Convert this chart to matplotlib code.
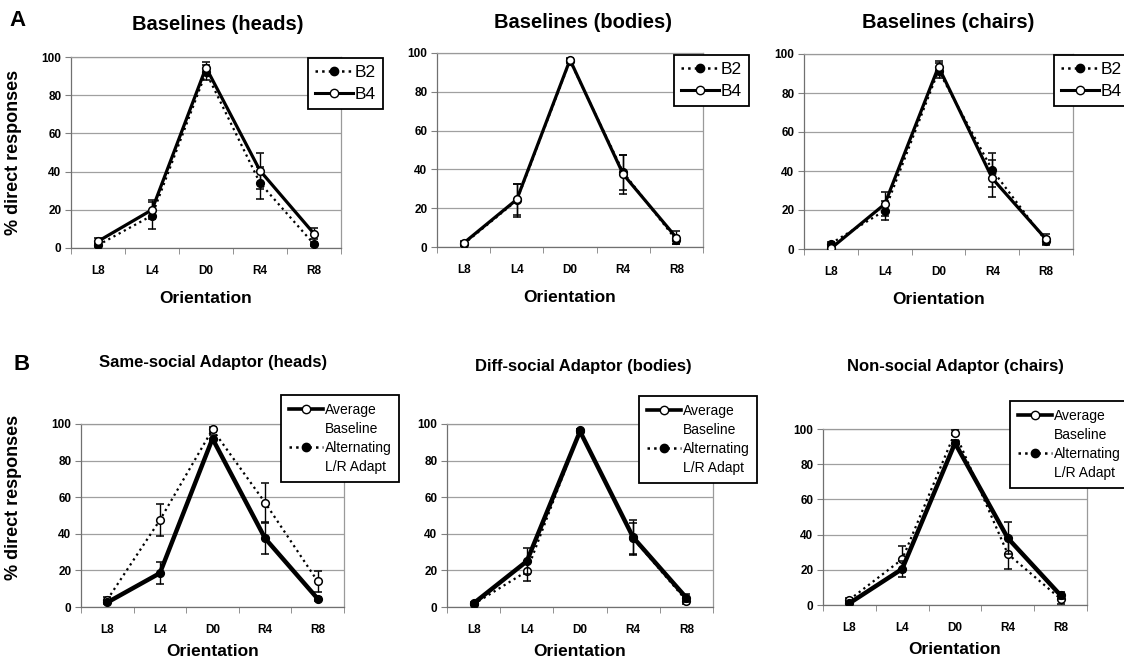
import matplotlib
matplotlib.use('Agg')
import matplotlib.pyplot as plt
from matplotlib.lines import Line2D
import numpy as np

plt.rcParams['font.family'] = ['Liberation Sans', 'DejaVu Sans']

orient = ['L8', 'L4', 'D0', 'R4', 'R8']

# top row: baselines B2 / B4
heads_b2 = [1.5, 17, 92, 34, 2]
heads_b2_err = [1, 7, 4, 8.5, 1]
heads_b4 = [3.5, 20, 94.5, 40.5, 7.5]
heads_b4_err = [1.5, 5, 3, 9.5, 3]

bodies_b2 = [1.5, 24, 96, 38.5, 3.5]
bodies_b2_err = [1, 8.5, 1, 9, 2]
bodies_b4 = [2, 24.5, 96.5, 37.5, 4.8]
bodies_b4_err = [1, 8, 1, 10, 3.5]

chairs_b2 = [2.8, 19.7, 91.5, 40.5, 4]
chairs_b2_err = [1, 5, 4, 8.5, 2]
chairs_b4 = [0.3, 23, 93.5, 36.2, 5]
chairs_b4_err = [0.5, 6, 3, 9.5, 2.5]

# bottom row: average baseline vs alternating L/R adapt
same_avg = [2.5, 18.5, 92, 37.5, 4.5]
same_avg_err = [1, 6, 2, 8.5, 1]
same_alt = [4, 47.5, 97, 57, 14]
same_alt_err = [1.5, 8.6, 1.5, 10.5, 5.6]

diff_avg = [2, 25, 96, 38, 5]
diff_avg_err = [0.5, 7, 1, 9.5, 2]
diff_alt = [1.5, 19.5, 96.5, 37.5, 3.5]
diff_alt_err = [0.5, 5.5, 1, 8.5, 2]

non_avg = [1, 20.5, 92, 38, 5.5]
non_avg_err = [0.5, 4.5, 2, 9, 2]
non_alt = [3, 26, 98, 29, 3.5]
non_alt_err = [1, 7.5, 1.5, 8.5, 3]

W, H = 1124, 664
fig = plt.figure(figsize=(W / 100, H / 100), dpi=100)


def px_axes(l, r, t, b):
    return fig.add_axes([l / W, 1 - b / H, (r - l) / W, (b - t) / H])


def style_axes(ax, xpad, ylab_x=None, ylab_y=None):
    x = np.arange(len(orient))
    ax.set_xlim(-0.5, len(orient) - 0.5)
    ax.set_ylim(0, 100)
    ax.set_yticks([0, 20, 40, 60, 80, 100])
    ax.set_xticks(x)
    ax.set_xticklabels(orient)
    ax.set_xticks(np.arange(-0.5, len(orient), 1.0), minor=True)
    ax.tick_params(axis='x', which='major', length=0, pad=12)
    ax.tick_params(axis='x', which='minor', length=4, color='#808080', direction='out')
    ax.tick_params(axis='y', length=4, color='#808080', direction='out', pad=3)
    for lab in ax.get_xticklabels() + ax.get_yticklabels():
        lab.set_fontweight('bold')
        lab.set_fontsize(8.5)
    ax.grid(axis='y', color='#a0a0a0', lw=0.9)
    ax.set_axisbelow(True)
    for s in ax.spines.values():
        s.set_color('#9a9a9a')
        s.set_linewidth(0.9)
    ax.spines['left'].set_color('#707070')
    ax.spines['bottom'].set_color('#707070')
    ax.set_xlabel('Orientation', fontsize=12.5, fontweight='bold', labelpad=xpad)
    if ylab_x is not None:
        ax.set_ylabel('% direct responses', fontsize=13, fontweight='bold')
        ax.yaxis.set_label_coords(ylab_x, ylab_y)


def draw_pair(ax, dot_y, dot_e, sol_y, sol_e, dot_open, sol_w):
    x = np.arange(len(orient))
    ax.errorbar(x, dot_y, yerr=dot_e, color='black', ls=':', lw=1.6,
                marker='o', ms=5.5, mfc='white' if dot_open else 'black',
                mec='black', mew=1.1, ecolor='black', elinewidth=1, capsize=3,
                zorder=3)
    ax.errorbar(x, sol_y, yerr=sol_e, color='black', ls='-', lw=sol_w,
                marker='o', ms=5.5, mfc='black' if dot_open else 'white',
                mec='black', mew=1.1, ecolor='black', elinewidth=1, capsize=3,
                zorder=4)


def legend_box(ax, handles, labels, x0, y0, fs, spacing, hlen, pad):
    leg = ax.legend(handles, labels, loc='upper left',
                    bbox_to_anchor=(x0 / W, 1 - y0 / H),
                    bbox_transform=fig.transFigure, frameon=True,
                    fancybox=False, framealpha=1, edgecolor='black',
                    prop={'size': fs},
                    labelspacing=spacing, handlelength=hlen,
                    handletextpad=0.1, borderpad=pad, borderaxespad=0)
    leg.get_frame().set_linewidth(1.3)
    leg.set_zorder(10)
    return leg


h_b2 = Line2D([], [], color='black', ls=':', lw=1.8, marker='o', ms=6,
              mfc='black', mec='black')
h_b4 = Line2D([], [], color='black', ls='-', lw=2.2, marker='o', ms=6,
              mfc='white', mec='black')
h_none = Line2D([], [], color='none')

# ---- row A ----
top_sets = [
    ('Baselines (heads)', heads_b2, heads_b2_err, heads_b4, heads_b4_err,
     (71, 341, 57, 248), (218, 25), (308, 58)),
    ('Baselines (bodies)', bodies_b2, bodies_b2_err, bodies_b4, bodies_b4_err,
     (437, 703, 53, 247), (583, 23), (674, 55)),
    ('Baselines (chairs)', chairs_b2, chairs_b2_err, chairs_b4, chairs_b4_err,
     (804, 1073, 54, 249), (948, 23), (1054, 55)),
]
for i, (title, y2, e2, y4, e4, box, tpos, lpos) in enumerate(top_sets):
    ax = px_axes(*box)
    draw_pair(ax, y2, e2, y4, e4, dot_open=False, sol_w=2.3)
    if i == 0:
        style_axes(ax, 10, -0.18, 0.5)
    else:
        style_axes(ax, 10)
    fig.text(tpos[0] / W, 1 - tpos[1] / H, title, ha='center', va='center',
             fontsize=14.5, fontweight='bold')
    legend_box(ax, [h_b2, h_b4], ['B2', 'B4'], lpos[0], lpos[1], 12.5,
               0.4, 2.2, 0.4)

# ---- row B ----
bot_sets = [
    ('Same-social Adaptor (heads)', same_alt, same_alt_err, same_avg, same_avg_err,
     (81, 344, 424, 607), (213, 363), (281, 395)),
    ('Diff-social Adaptor (bodies)', diff_alt, diff_alt_err, diff_avg, diff_avg_err,
     (447, 713, 424, 607), (583, 367), (639, 396)),
    ('Non-social Adaptor (chairs)', non_alt, non_alt_err, non_avg, non_avg_err,
     (823, 1087, 429, 605), (955, 367), (1010, 401)),
]
h_avg = Line2D([], [], color='black', ls='-', lw=2.6, marker='o', ms=6,
               mfc='white', mec='black')
h_alt = Line2D([], [], color='black', ls=':', lw=1.8, marker='o', ms=6,
               mfc='black', mec='black')
for i, (title, ya, ea, yb, eb, box, tpos, lpos) in enumerate(bot_sets):
    ax = px_axes(*box)
    draw_pair(ax, ya, ea, yb, eb, dot_open=True, sol_w=3.2)
    if i == 0:
        style_axes(ax, 6, -0.225, 0.6)
    else:
        style_axes(ax, 6)
    fig.text(tpos[0] / W, 1 - tpos[1] / H, title, ha='center', va='center',
             fontsize=12, fontweight='bold')
    legend_box(ax, [h_avg, h_none, h_alt, h_none],
               ['Average', 'Baseline', 'Alternating', 'L/R Adapt'],
               lpos[0], lpos[1], 10, 0.38, 2.5, 0.55)

fig.text(17 / W, 1 - 20 / H, 'A', ha='center', va='center', fontsize=16,
         fontweight='bold')
fig.text(22 / W, 1 - 364 / H, 'B', ha='center', va='center', fontsize=16,
         fontweight='bold')

fig.savefig('out.png', dpi=100, facecolor='white')
